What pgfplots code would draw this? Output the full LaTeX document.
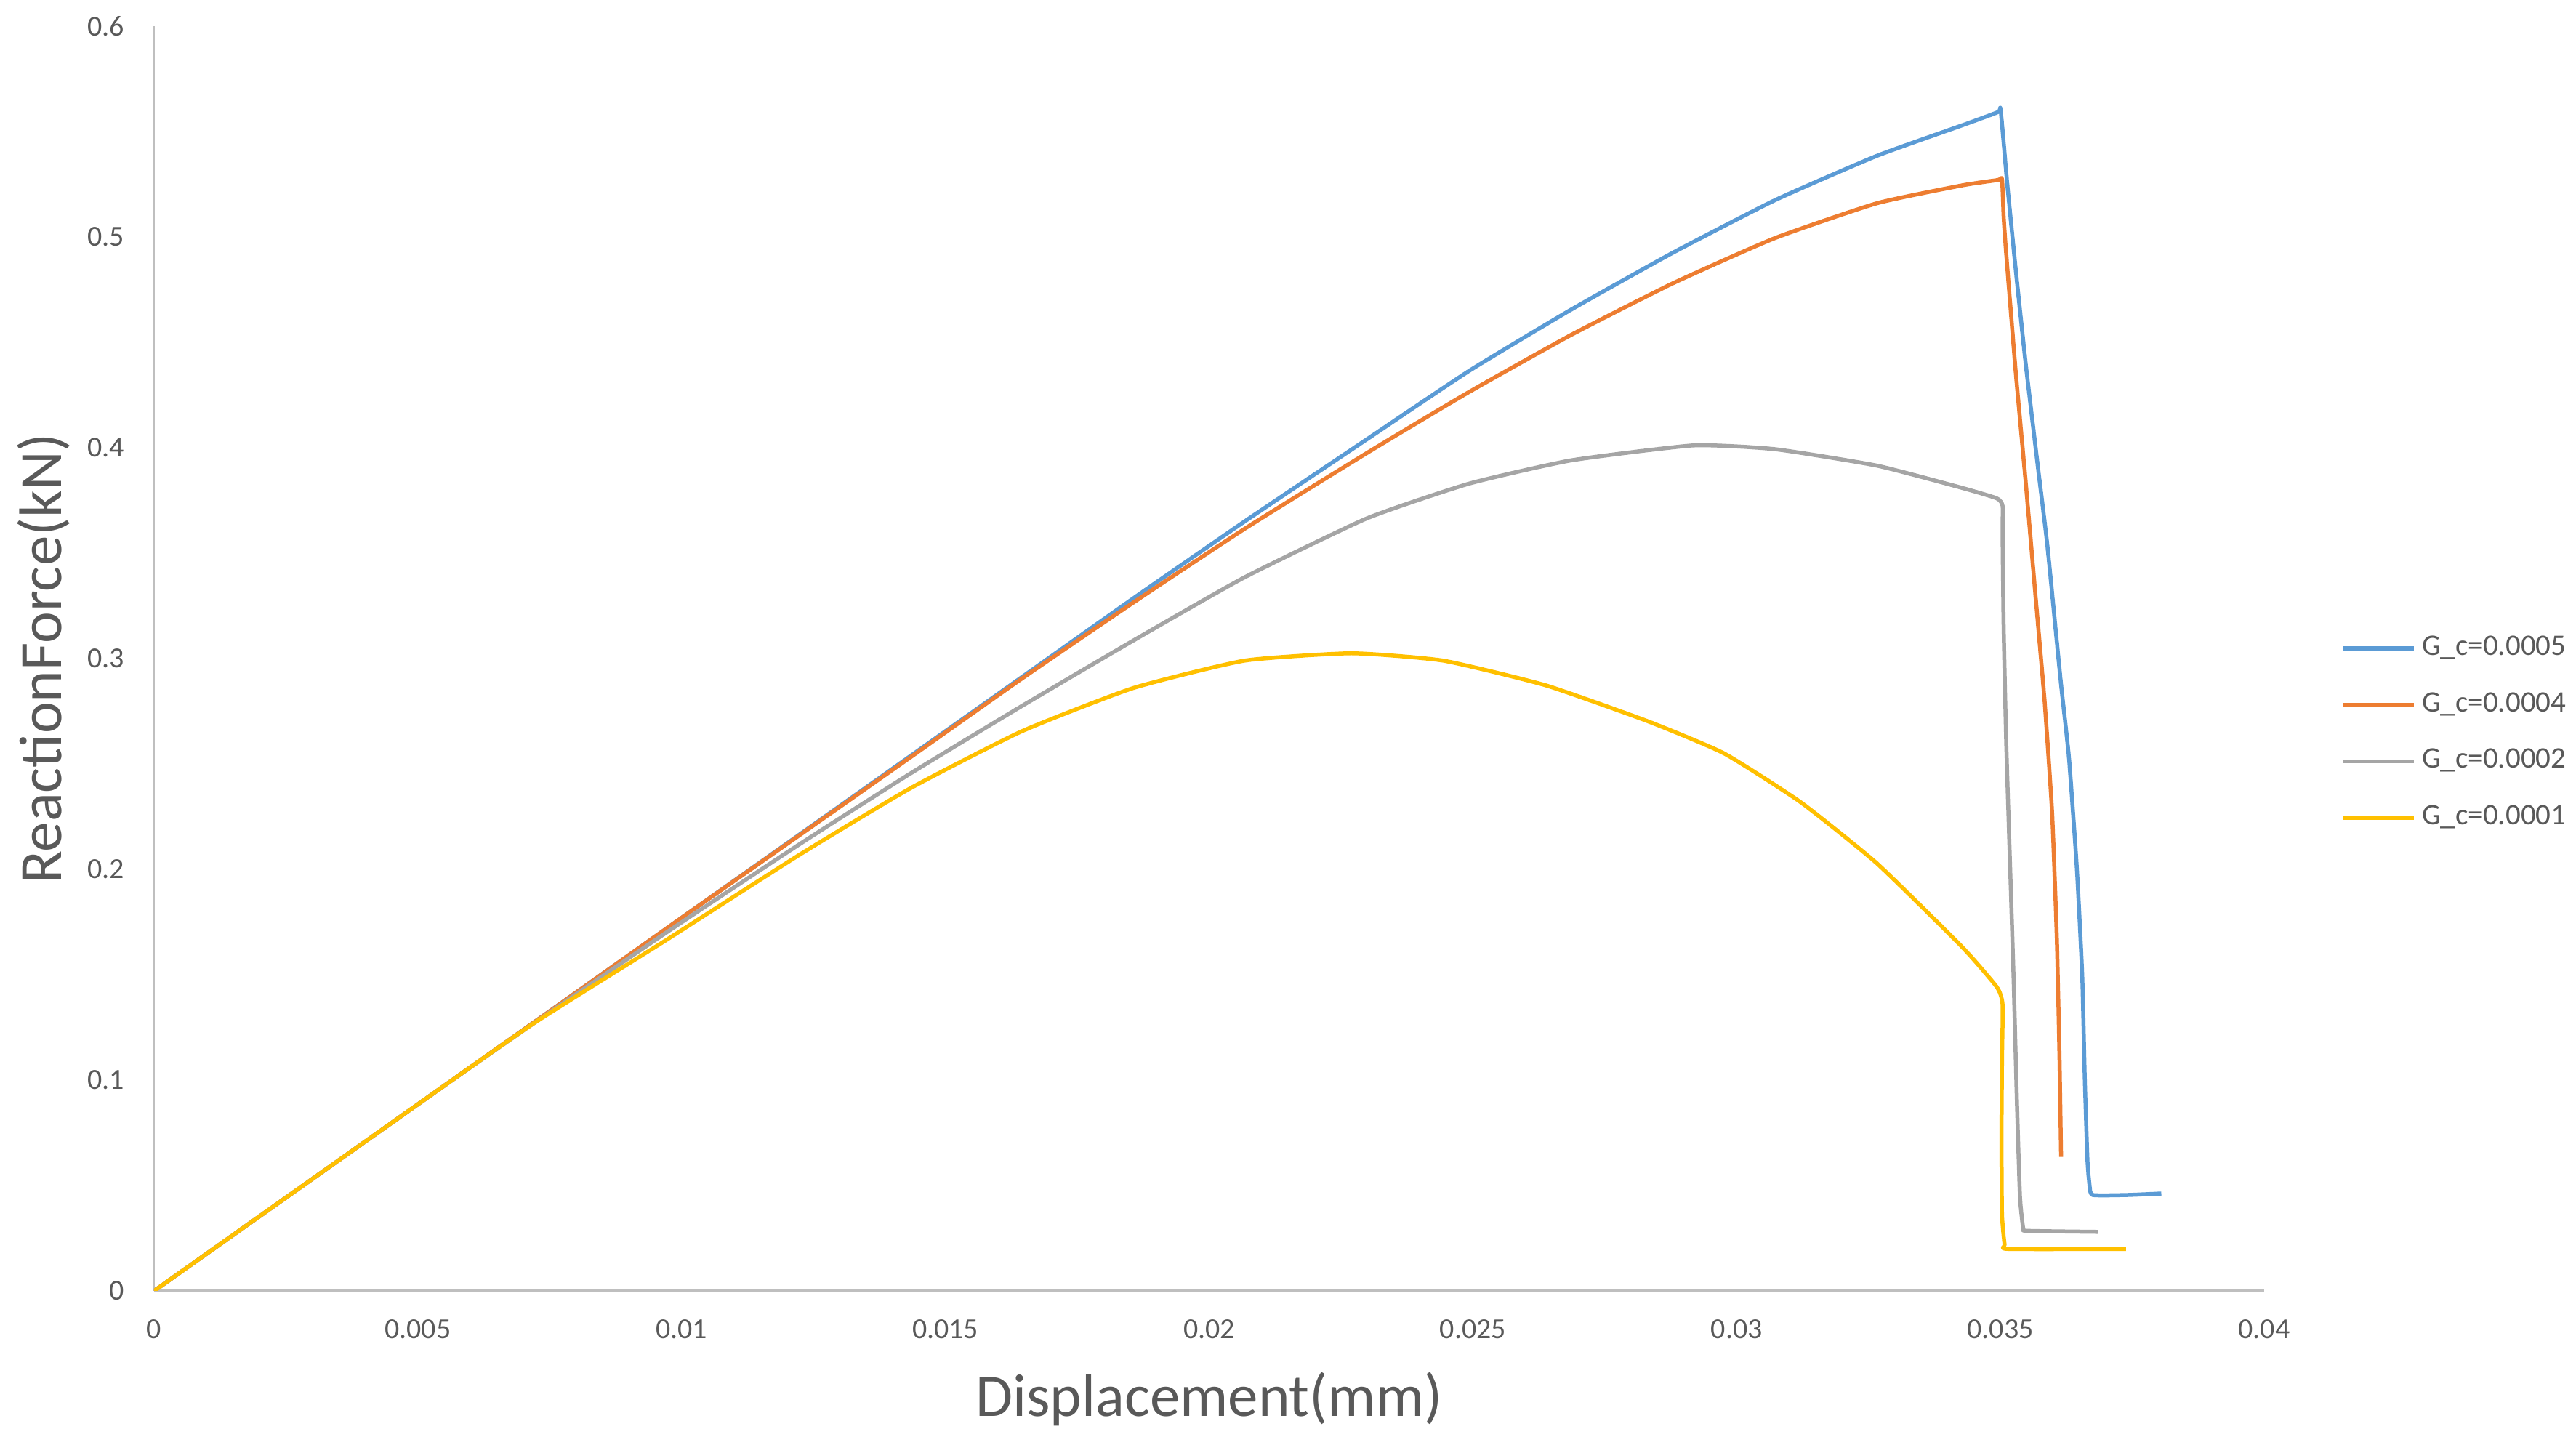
\documentclass[border=0pt]{standalone}
\usepackage{fontspec}
\setmainfont{Carlito}
\usepackage{pgfplots}
\pgfplotsset{compat=1.18}
\definecolor{gcfive}{HTML}{5B9BD5}
\definecolor{gcfour}{HTML}{ED7D31}
\definecolor{gctwo}{HTML}{A5A5A5}
\definecolor{gcone}{HTML}{FFC000}
\definecolor{txt}{HTML}{595959}
\definecolor{axl}{HTML}{BFBFBF}

\begin{document}
\begin{tikzpicture}
\path[use as bounding box] (-42.4pt,-40.2pt) rectangle (666.4pt,355.2pt);
\begin{axis}[
  at={(0,0)}, anchor=south west,
  scale only axis, width=580.6pt, height=348pt,
  xmin=0, xmax=0.04, ymin=0, ymax=0.6,
  axis x line=bottom, axis y line=left,
  axis line style={draw=axl, line width=0.6pt, -},
  scaled x ticks=false, scaled y ticks=false,
  xtick={0,0.005,0.01,0.015,0.02,0.025,0.03,0.035,0.04},
  xticklabels={0,0.005,0.01,0.015,0.02,0.025,0.03,0.035,0.04},
  ytick={0,0.1,0.2,0.3,0.4,0.5,0.6},
  yticklabels={0,0.1,0.2,0.3,0.4,0.5,0.6},
  major tick length=0pt,
  tick label style={font=\fontsize{8}{9}\selectfont, text=txt, inner sep=0pt},
  xticklabel style={anchor=north, yshift=-7.8pt},
  yticklabel style={anchor=east, xshift=-8pt},
  xlabel={Displacement(mm)},
  ylabel={ReactionForce(kN)},
  label style={font=\fontsize{16.6}{18}\selectfont, text=txt, inner sep=0pt},
  xlabel style={at={(axis description cs:0.5,-0.0994)}, anchor=base},
  ylabel style={at={(axis description cs:-0.04375,0.5)}, anchor=base},
  legend cell align=left,
  legend image code/.code={\draw[#1] (0pt,0pt) -- (19.3pt,0pt);},
  legend style={at={(axis description cs:1.0367,0.5178)}, anchor=north west,
    draw=none, fill=none, inner sep=0pt, outer sep=0pt,
    font=\fontsize{8.2}{9}\selectfont, text=txt, row sep=8.74pt,
    nodes={inner sep=0pt, text height=5.3pt, text depth=1.5pt},
    /tikz/every odd column/.append style={column sep=1.7pt}},
  every axis plot/.append style={line width=1.1pt, line join=round, smooth, tension=0.3},
]
% G_c = 0.0005
\addplot[gcfive] coordinates {
(0,0) (0.005,0.0885) (0.0072,0.1274) (0.01,0.177) (0.01224,0.2166) (0.01434,0.2538)
(0.01645,0.2912) (0.01856,0.3285) (0.02067,0.3650) (0.02299,0.4040) (0.02493,0.4365)
(0.02686,0.4655) (0.02879,0.4925) (0.03073,0.5175) (0.03266,0.5385) (0.03428,0.5530)
(0.03495,0.5592) (0.03500,0.561) (0.03506,0.545) (0.03513,0.525) (0.03529,0.4845)
(0.03548,0.4397) (0.03571,0.391) (0.03589,0.3536) (0.03614,0.290) (0.0363,0.2527)
(0.03645,0.200) (0.03655,0.150) (0.0366,0.100) (0.03665,0.062) (0.03669,0.050)
(0.03675,0.0455) (0.0374,0.0455) (0.03805,0.0462)
};
\addlegendentry{G\_c=0.0005}
% G_c = 0.0004
\addplot[gcfour] coordinates {
(0,0) (0.005,0.0885) (0.0072,0.1274) (0.01,0.177) (0.01224,0.2163) (0.01434,0.2532)
(0.01645,0.2905) (0.01856,0.3265) (0.02067,0.3615) (0.02299,0.3975) (0.02493,0.4265)
(0.02686,0.4535) (0.02879,0.4780) (0.03073,0.4995) (0.03266,0.5160) (0.03428,0.5245)
(0.03495,0.527) (0.03503,0.5274) (0.03506,0.510) (0.03511,0.4919) (0.03529,0.4359)
(0.03548,0.3835) (0.03566,0.3312) (0.03584,0.279) (0.03598,0.2266) (0.03607,0.1667)
(0.03612,0.1107) (0.03615,0.0636)
};
\addlegendentry{G\_c=0.0004}
% G_c = 0.0002
\addplot[gctwo] coordinates {
(0,0) (0.005,0.0885) (0.0072,0.127) (0.00968,0.1695) (0.01224,0.2120) (0.01434,0.2455)
(0.01645,0.2775) (0.01856,0.3085) (0.02067,0.3385) (0.02299,0.3665) (0.02493,0.3830)
(0.02686,0.3940) (0.02918,0.4011) (0.03073,0.3993) (0.03266,0.3915) (0.03428,0.3809)
(0.03493,0.376) (0.03504,0.3725) (0.03504,0.36) (0.03506,0.316) (0.03511,0.260)
(0.03518,0.204) (0.03525,0.148) (0.03531,0.092) (0.03537,0.045) (0.03543,0.030)
(0.0355,0.0285) (0.03685,0.028)
};
\addlegendentry{G\_c=0.0002}
% G_c = 0.0001
\addplot[gcone] coordinates {
(0,0) (0.005,0.0885) (0.0072,0.127) (0.00968,0.166) (0.01224,0.207) (0.01434,0.2385)
(0.01645,0.2655) (0.01856,0.2860) (0.02067,0.2990) (0.0227,0.3025) (0.02444,0.2990)
(0.02638,0.2873) (0.02831,0.2703) (0.02976,0.255) (0.03121,0.2319) (0.03266,0.2028)
(0.03428,0.163) (0.03493,0.1442) (0.03504,0.136) (0.03503,0.110) (0.03502,0.073)
(0.03503,0.036) (0.03508,0.022) (0.03515,0.0199) (0.03738,0.0199)
};
\addlegendentry{G\_c=0.0001}
\end{axis}
\end{tikzpicture}
\end{document}
